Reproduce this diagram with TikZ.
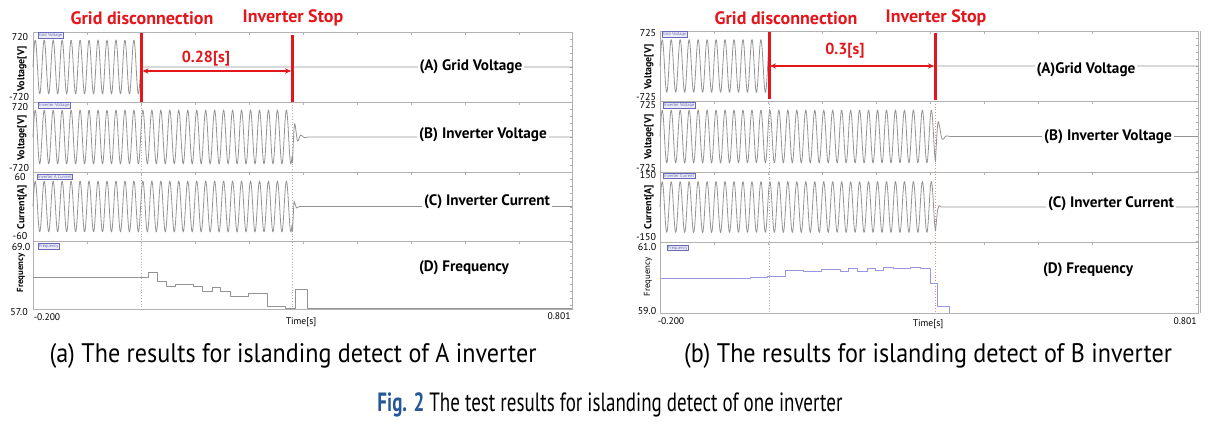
\documentclass[tikz,border=0pt]{standalone}
\usepackage{fontspec}
\setmainfont{PT Sans}
\newfontfamily\capfont[FakeStretch=0.9]{PT Sans}
\newfontfamily\figcapfont[FakeStretch=0.72]{PT Sans}
\usetikzlibrary{arrows.meta}

\definecolor{markred}{RGB}{228,22,28}
\definecolor{figblue}{RGB}{38,88,150}
\definecolor{tagblue}{RGB}{105,105,185}
\definecolor{freqblue}{RGB}{150,150,225}

\tikzset{
  panel/.style={draw=gray!60, line width=0.5pt},
  wave/.style={draw=gray!85, line width=0.4pt, line join=round},
  event/.style={draw=markred, line width=1.5pt},
  span/.style={draw=markred, line width=0.6pt, {Stealth[length=3pt,width=2.6pt]}-{Stealth[length=3pt,width=2.6pt]}},
  cut/.style={draw=gray!60, line width=0.4pt, densely dotted},
  eventtitle/.style={text=markred, font=\fontsize{9}{10}\selectfont\bfseries},
  spanlabel/.style={text=markred, font=\fontsize{8}{10}\selectfont\bfseries},
  trace/.style={fill=white, inner sep=1pt, font=\fontsize{7.6}{9}\selectfont\bfseries},
  ylab/.style={rotate=90, inner sep=0pt, font=\fontsize{5}{6}\selectfont\bfseries},
  ynum/.style={inner sep=0.5pt, font=\fontsize{5}{6}\selectfont},
  xnum/.style={inner sep=0.5pt, font=\fontsize{4.8}{6}\selectfont},
  tag/.style={draw=tagblue, fill=tagblue!12, text=tagblue, line width=0.3pt, inner sep=0.4pt, anchor=west, font=\fontsize{2.2}{2.5}\selectfont},
  subcap/.style={font=\capfont\fontsize{13.4}{15}\selectfont},
  figcap/.style={font=\figcapfont\fontsize{13.2}{15}\selectfont},
}

\begin{document}
\begin{tikzpicture}[x=0.5pt, y=-0.5pt]
\useasboundingbox (0,0) rectangle (1220,423);

% ===== (a) A inverter =====
% Frames and ticks
\foreach \top/\bot in {32/102, 102/172, 172/241, 241/309}
  \draw[panel] (33,\top) rectangle (572,\bot);
\foreach \yy in {32,102,172,241}
  \foreach \xx in {87,141,...,519}
    \draw[panel] (\xx,\yy) -- ++(0,3);
\foreach \yy in {39,46,...,305}
  \draw[panel] (572,\yy) -- ++(-2,0);

% Dotted event lines
\draw[cut] (141,102) -- (141,309);
\draw[cut] (292,102) -- (292,309);

% Waveforms (60 Hz, 40.134 deg per px)
\draw[wave] plot[domain=33:141, samples=220] (\x,{67-27*sin(40.134*(\x-33))}) -- (141,67) -- (572,67);
\draw[wave] plot[domain=33:292, samples=520] (\x,{137-27*sin(40.134*(\x-33))})
  -- plot[smooth] coordinates {(292.5,163) (294.5,124) (297.5,141) (300.5,135) (304,137.5) (308,137)} -- (572,137);
\draw[wave] plot[domain=33:292, samples=520] (\x,{206.5-25.5*sin(40.134*(\x-33))})
  -- (292.5,231) -- (294,201) -- (296.5,208) -- (299.5,206.5) -- (572,206.5);
\draw[wave] (33,277) -| (148,272) -| (157,281) -| (166,286) -| (175,284) -| (193,286)
  -| (202,291) -| (212,287) -| (220,291) -| (230,296) -| (248,293) -| (267,306)
  -| (285,308) -| (295,289) -| (307,308) -- (572,308);

% Trace tags
\node[tag] (tagA1) at (38,35) {Grid Voltage};
\node[tag] (tagA2) at (38,105.5) {Inverter Voltage};
\node[tag] (tagA3) at (37,176.5) {Inverter A Current};
\node[tag] (tagA4) at (38,246.5) {Frequency};

% Events
\coordinate (gdAtop) at (141.5,33);
\coordinate (gdAbot) at (141.5,102);
\coordinate (isAtop) at (292,35);
\coordinate (isAbot) at (292,102);
\coordinate (gdA) at (142.5,71);
\coordinate (isA) at (291,71);
\draw[event] (gdAtop) -- (gdAbot);
\draw[event] (isAtop) -- (isAbot);
\draw[span] (gdA) -- (isA);
\node[eventtitle] (gdAtitle) at (142,18) {Grid disconnection};
\node[eventtitle] (isAtitle) at (293,18) {Inverter Stop};
\node[spanlabel] (spanA) at (206,59) {0.28[s]};

% Trace labels
\node[trace] (traceA1) at (471,67) {(A) Grid Voltage};
\node[trace] (traceA2) at (483,135) {(B) Inverter Voltage};
\node[trace] (traceA3) at (487,202) {(C) Inverter Current};
\node[trace] (traceA4) at (464,268) {(D) Frequency};

% Axis labels
\node[ynum] (yA1t) at (20,37) {720};
\node[ynum] (yA1b) at (19,97) {-720};
\node[ylab] (yA1) at (22,69) {Voltage[V]};
\node[ynum] (yA2t) at (20,107) {720};
\node[ynum] (yA2b) at (19,168) {-720};
\node[ylab] (yA2) at (22,138) {Voltage[V]};
\node[ynum] (yA3t) at (20,177) {60};
\node[ynum] (yA3b) at (20,236) {-60};
\node[ylab] (yA3) at (22,207) {Current[A]};
\node[ynum] (yA4t) at (21,247) {69.0};
\node[ynum] (yA4b) at (19,312) {57.0};
\node[ylab, font=\fontsize{4.4}{6}\selectfont\bfseries] (yA4) at (21,273) {Frequency};
\node[xnum] (xA0) at (47,317) {-0.200};
\node[xnum] (xAt) at (301,322) {Time[s]};
\node[xnum, anchor=east] (xA1) at (572,316) {0.801};

% ===== (b) B inverter =====
% Frames and ticks
\foreach \top/\bot in {31/101, 101/172, 172/242, 242/313}
  \draw[panel] (660,\top) rectangle (1198,\bot);
\foreach \yy in {31,101,172,242}
  \foreach \xx in {714,768,...,1145}
    \draw[panel] (\xx,\yy) -- ++(0,3);
\foreach \yy in {38,45,...,309}
  \draw[panel] (1198,\yy) -- ++(-2,0);
\draw[panel] (1200,31) -- (1200,313);

% Dotted event lines
\draw[cut] (769,101) -- (769,313);
\draw[cut, draw=markred!50] (935,101) -- (935,313);

% Waveforms
\draw[wave] plot[domain=660:769, samples=220] (\x,{66-26.5*sin(40.134*(\x-660))}) -- (769,66) -- (1198,66);
\draw[wave] plot[domain=660:935, samples=550] (\x,{136.5-26.5*sin(40.134*(\x-660))})
  -- plot[smooth] coordinates {(935.5,162) (938,122) (942,139) (946,136) (950,136.5)} -- (1198,136.5);
\draw[wave] plot[domain=660:935, samples=550] (\x,{207-25.5*sin(40.134*(\x-660))})
  -- (935.5,231) -- (937.5,210) -- (939,205.5) -- (941,207) -- (1198,207);
\draw[wave, draw=freqblue] (660,278) -| (750,277) -| (767,276) -| (785,270) -| (803,271)
  -| (821,269) -| (840,271) -| (848,268) -| (857,271) -| (867,268) -| (875,270)
  -| (883,267) -| (893,268) -| (910,267) -| (920,268) -| (930,283) -| (937,306) -| (949,313);

% Trace tags
\node[tag] (tagB1) at (662,34) {Grid Voltage};
\node[tag] (tagB2) at (663,105) {Inverter Voltage};
\node[tag] (tagB3) at (663,176) {Inverter Current};
\node[tag] (tagB4) at (667,248) {Frequency};

% Events
\coordinate (gdBtop) at (769,32);
\coordinate (gdBbot) at (769,99);
\coordinate (isBtop) at (935,33);
\coordinate (isBbot) at (935,100);
\coordinate (gdB) at (770,66);
\coordinate (isB) at (934,66);
\draw[event] (gdBtop) -- (gdBbot);
\draw[event] (isBtop) -- (isBbot);
\draw[span] (gdB) -- (isB);
\node[eventtitle] (gdBtitle) at (786,18) {Grid disconnection};
\node[eventtitle] (isBtitle) at (936,18) {Inverter Stop};
\node[spanlabel] (spanB) at (845,51) {0.3[s]};

% Trace labels
\node[trace] (traceB1) at (1086,70) {(A)Grid Voltage};
\node[trace] (traceB2) at (1108,137) {(B) Inverter Voltage};
\node[trace] (traceB3) at (1111,204) {(C) Inverter Current};
\node[trace] (traceB4) at (1088,270) {(D) Frequency};

% Axis labels
\node[ynum] (yB1t) at (648,33) {725};
\node[ynum] (yB1b) at (646,97) {-725};
\node[ylab] (yB1) at (649,67) {Voltage[V]};
\node[ynum] (yB2t) at (648,105) {725};
\node[ynum] (yB2b) at (646,168) {-725};
\node[ylab] (yB2) at (649,137) {Voltage[V]};
\node[ynum] (yB3t) at (648,175) {150};
\node[ynum] (yB3b) at (646,237) {-150};
\node[ylab] (yB3) at (649,207) {Current[A]};
\node[ynum] (yB4t) at (647,247) {61.0};
\node[ynum] (yB4b) at (647,311) {59.0};
\node[ylab, font=\fontsize{4.4}{6}\selectfont] (yB4) at (648,277) {Frequency};
\node[xnum] (xB0) at (671,321) {-0.200};
\node[xnum] (xBt) at (928,324) {Time[s]};
\node[xnum, anchor=east] (xB1) at (1198,321) {0.801};

% Captions
\node[subcap] (capA) at (293,356) {(a) The results for islanding detect of A inverter};
\node[subcap] (capB) at (928,356) {(b) The results for islanding detect of B inverter};
\node[figcap] (capFig) at (610,405) {{\color{figblue}\bfseries Fig. 2} The test results for islanding detect of one inverter};

\end{tikzpicture}
\end{document}
